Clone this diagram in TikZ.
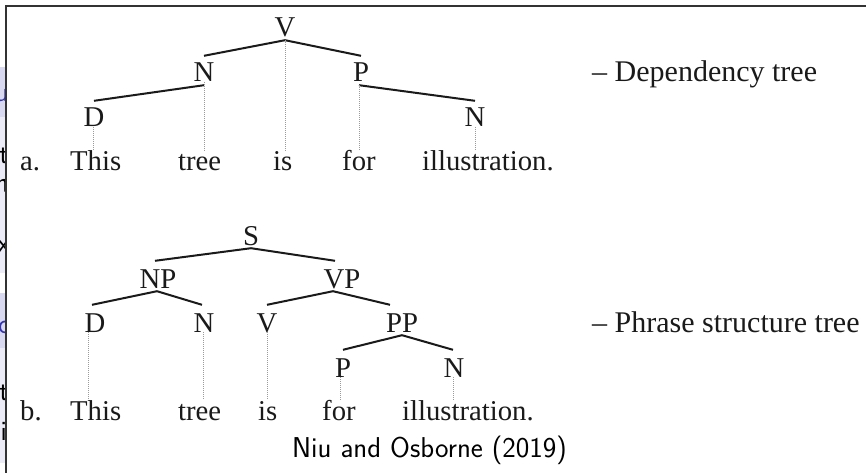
\documentclass[tikz,border=0pt]{standalone}
\usepackage{fontspec}
\setmainfont{Liberation Serif}
\definecolor{ink}{HTML}{1A1A1A}
\definecolor{dotgray}{HTML}{9A9A9A}
\definecolor{lav}{HTML}{EBEBF7}
\definecolor{bluebg}{HTML}{D8D8F0}
\definecolor{beamblue}{HTML}{3333B3}
\begin{document}
\begin{tikzpicture}[x=1pt,y=-1pt,
  lab/.style={font=\fontsize{28.7}{30}\selectfont, text=ink, inner sep=0pt, anchor=base, text height=26pt, text depth=3pt},
  labb/.style={lab, text height=27pt},
  word/.style={font=\fontsize{28.7}{30}\selectfont, text=ink, inner sep=0pt, anchor=base west, text height=20pt, text depth=6pt},
  side/.style={font=\fontsize{30}{32}\selectfont, text=ink, inner sep=0pt, anchor=base west},
  treeline/.style={draw=ink, line width=2pt},
  dotline/.style={draw=dotgray, line width=0.9pt, dash pattern=on 1pt off 1pt},
  frag/.style={font=\sffamily\fontsize{28}{30}\selectfont, inner sep=0pt, anchor=base east, text=black}]
\useasboundingbox (0,0) rectangle (866,473);
\fill[white] (0,0) rectangle (866,473);

% left strip remnants
\fill[bluebg] (0,67) rectangle (6,117);
\fill[lav] (0,117) rectangle (6,273);
\fill[bluebg] (0,293) rectangle (6,348);
\fill[lav] (0,348) rectangle (6,463);
\begin{scope}
\clip (0,0) rectangle (6,473);
\node[frag, text=beamblue] (f1) at (9,102) {u};
\node[frag] (f2) at (9,164) {t};
\node[frag, font=\sffamily\bfseries\fontsize{28}{30}\selectfont] (f3) at (10,192) {n};
\node[frag] (f4) at (10,252) {x};
\node[frag, text=beamblue] (f5) at (10,333) {c};
\node[frag] (f6) at (9,400) {t};
\node[frag] (f7) at (7,440) {i};
\end{scope}
\draw[draw=black!80, line width=1.2pt] (6,473) -- (6,6) -- (866,6);

% ---------- tree a ----------
\node[lab] (Va) at (285,37) {V};
\node[lab] (Na) at (204,82) {N};
\node[lab] (Pa) at (361,82) {P};
\node[lab] (Da) at (94,127) {D};
\node[lab] (N2a) at (475,127) {N};

\node[word] (aa) at (20,171) {a.};
\node[word] (w1a) at (70,171) {This};
\node[word] (w2a) at (178,171) {tree};
\node[word] (w3a) at (273,171) {is};
\node[word] (w4a) at (342,171) {for};
\node[word] (w5a) at (422,171) {illustration.};

\draw[treeline] (Va.south) -- (Na.north);
\draw[treeline] (Va.south) -- (Pa.north);
\draw[treeline] (Na.south) -- (Da.north);
\draw[treeline] ([xshift=-2pt]Pa.south) -- (N2a.north);

\coordinate (dDa) at ([xshift=-1pt]Da.base);
\coordinate (dNa) at (Na.base);
\coordinate (dVa) at (Va.south);
\coordinate (dPa) at ([xshift=-2pt]Pa.south);
\coordinate (dN2a) at (N2a.base);
\draw[dotline] (dDa) -- (dDa |- w1a.north);
\draw[dotline] (dNa) -- (dNa |- w2a.north);
\draw[dotline] (dVa) -- (dVa |- w3a.north);
\draw[dotline] (dPa) -- (dPa |- w4a.north);
\draw[dotline] (dN2a) -- (dN2a |- w5a.north);

\node[side] (depa) at (592,82) {– Dependency tree};

% ---------- tree b ----------
\node[labb] (Sb) at (251,245) {S};
\node[labb] (NPb) at (158,288) {NP};
\node[labb] (VPb) at (342,288) {VP};
\node[labb] (Db) at (95,332) {D};
\node[labb] (Nb) at (204,332) {N};
\node[labb] (Vb) at (267,332) {V};
\node[labb] (PPb) at (402,332) {PP};
\node[labb] (Pb) at (343,377) {P};
\node[labb] (N2b) at (454,377) {N};

\node[word] (bb) at (20,420) {b.};
\node[word] (w1b) at (70,420) {This};
\node[word] (w2b) at (178,420) {tree};
\node[word] (w3b) at (258,420) {is};
\node[word] (w4b) at (322,420) {for};
\node[word] (w5b) at (402,420) {illustration.};

\draw[treeline] (Sb.south) -- ([xshift=-3pt]NPb.north);
\draw[treeline] (Sb.south) -- ([xshift=-7pt]VPb.north);
\draw[treeline] ([xshift=-1pt]NPb.south) -- ([xshift=-3pt]Db.north);
\draw[treeline] ([xshift=-1pt]NPb.south) -- ([xshift=-2pt]Nb.north);
\draw[treeline] ([xshift=-9pt]VPb.south) -- (Vb.north);
\draw[treeline] ([xshift=-9pt]VPb.south) -- ([xshift=-12pt]PPb.north);
\draw[treeline] (PPb.south) -- (Pb.north);
\draw[treeline] (PPb.south) -- ([xshift=-1pt]N2b.north);

\coordinate (dDb) at ([xshift=-7pt]Db.base);
\coordinate (dNb) at ([xshift=-1pt]Nb.base);
\coordinate (dVb) at (Vb.base);
\coordinate (dPb) at ([xshift=-3pt]Pb.base);
\coordinate (dN2b) at ([xshift=-1pt]N2b.base);
\draw[dotline] (dDb) -- (dDb |- w1b.north);
\draw[dotline] (dNb) -- (dNb |- w2b.north);
\draw[dotline] (dVb) -- (dVb |- w3b.north);
\draw[dotline] (dPb) -- (dPb |- w4b.north);
\draw[dotline] (dN2b) -- (dN2b |- w5b.north);

\node[side] (psb) at (592,332) {– Phrase structure tree};

\node[font=\sffamily\fontsize{28.7}{30}\selectfont, text=black, inner sep=0pt, anchor=base west] (cap) at (292,457) {Niu and Osborne (2019)};
\end{tikzpicture}
\end{document}
